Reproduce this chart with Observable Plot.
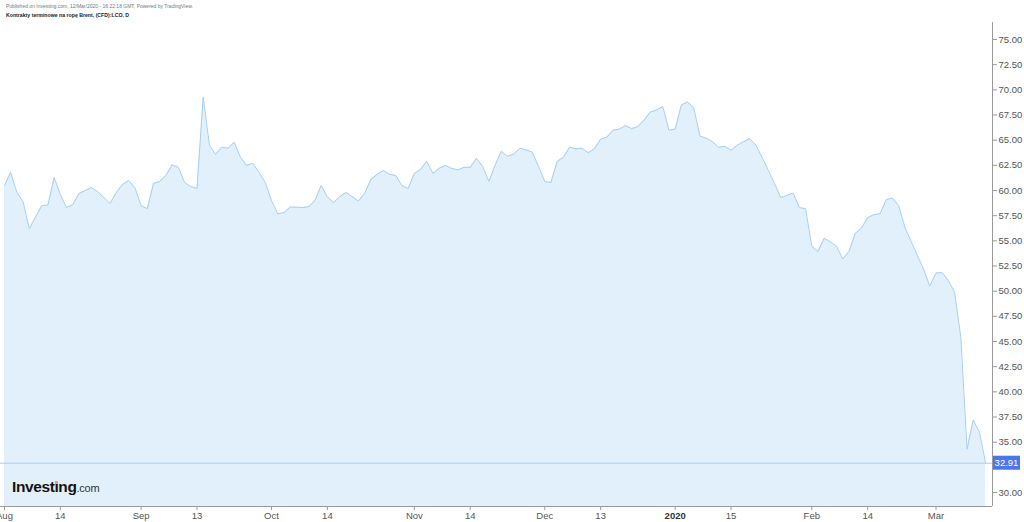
<!DOCTYPE html>
<html><head><meta charset="utf-8">
<script src="https://cdn.jsdelivr.net/npm/d3@7"></script>
<script src="https://cdn.jsdelivr.net/npm/@observablehq/plot@0.6"></script>
<style>
body{margin:0;background:#fff;font-family:"Liberation Sans",Arial,sans-serif;}
#wrap{position:relative;width:1024px;height:522px;overflow:hidden;}
#chart{position:absolute;left:0;top:0;}
#pub{position:absolute;left:6px;top:3px;font-size:5px;line-height:6px;color:#777;white-space:nowrap;}
#ttl{position:absolute;left:6px;top:12px;font-size:5.2px;line-height:6px;font-weight:bold;color:#222;white-space:nowrap;}
#logo{position:absolute;left:12px;top:478px;font-size:15.5px;line-height:18px;font-weight:bold;color:#141414;letter-spacing:-0.4px;white-space:nowrap;}
#logo .com{font-size:11px;font-weight:normal;color:#333;letter-spacing:-0.2px;}
#logo .idot{position:relative;}
#logo .idot::after{content:"";position:absolute;left:0.6px;top:3px;width:3px;height:3px;background:#f5a623;}
</style></head>
<body>
<div id="wrap">
  <div id="chart"></div>
  <div id="pub">Published on Investing.com, 12/Mar/2020 - 16:22:18 GMT, Powered by TradingView.</div>
  <div id="ttl">Kontrakty terminowe na ropę Brent, (CFD):LCO, D</div>
  <div id="logo">Invest<span class="idot">ı</span>ng<span class="com">.com</span></div>
</div>
<script>
// Daily closes (trading-day index 0 = 1 Aug 2019 ... 158 = 12 Mar 2020)
const closes = [
 60.5, 61.8, 59.8, 58.9, 56.2, 57.35, 58.5, 58.55, 61.3, 59.6,
 58.3, 58.6, 59.7, 60.0, 60.3, 59.9, 59.3, 58.7, 59.8, 60.6,
 61.0, 60.3, 58.5, 58.2, 60.7, 60.9, 61.5, 62.55, 62.3, 60.8,
 60.4, 60.2, 69.3, 64.5, 63.6, 64.3, 64.2, 64.8, 63.3, 62.5,
 62.7, 61.8, 60.8, 59.0, 57.7, 57.8, 58.35, 58.35, 58.3, 58.4,
 59.0, 60.5, 59.35, 58.8, 59.4, 59.8, 59.4, 58.95, 59.7, 61.1,
 61.6, 62.0, 61.6, 61.5, 60.5, 60.2, 61.7, 62.1, 62.9, 61.7,
 62.2, 62.5, 62.2, 62.05, 62.3, 62.3, 63.2, 62.4, 60.9, 62.5,
 63.9, 63.4, 63.6, 64.2, 64.05, 63.8, 62.4, 60.9, 60.8, 62.9,
 63.3, 64.3, 64.15, 64.2, 63.75, 64.15, 65.1, 65.3, 66.0, 66.1,
 66.45, 66.15, 66.35, 67.0, 67.8, 68.0, 68.35, 66.0, 66.1, 68.5,
 68.8, 68.2, 65.4, 65.2, 64.85, 64.3, 64.4, 64.0, 64.5, 64.85,
 65.15, 64.5, 63.3, 62.0, 60.7, 59.3, 59.5, 59.75, 58.3, 58.2,
 54.45, 53.95, 55.25, 54.9, 54.45, 53.2, 53.95, 55.75, 56.25, 57.3,
 57.6, 57.7, 59.1, 59.25, 58.5, 56.35, 54.95, 53.55, 52.2, 50.5,
 51.8, 51.85, 51.05, 49.9, 45.4, 34.3, 37.2, 36.0, 32.91
];
const xTicks = [0, 9, 22, 31, 43, 52, 66, 75, 87, 96, 108, 117, 130, 139, 150];
const xTickLabels = ["Aug","14","Sep","13","Oct","14","Nov","14","Dec","13","2020","15","Feb","14","Mar"];
const yTicks = [30, 35, 37.5, 40, 42.5, 45, 47.5, 50, 52.5, 55, 57.5, 60, 62.5, 65, 67.5, 70, 72.5, 75];
const lastPrice = closes[closes.length - 1];
const yMin = 28.61, yMax = 76.69;
const xMin = -0.64, xMax = 159.1;

const data = closes.map((v, i) => ({i, v}));

const chart = Plot.plot({
  width: 1024, height: 522,
  marginTop: 22, marginBottom: 16, marginLeft: 0, marginRight: 32,
  style: {background: "transparent", fontFamily: "Liberation Sans, Arial, sans-serif", fontSize: "9.5px", color: "#555", overflow: "visible"},
  x: {domain: [xMin, xMax], ticks: xTicks, tickFormat: d => xTickLabels[xTicks.indexOf(d)], tickSize: 4, tickPadding: 2, label: null},
  y: {domain: [yMin, yMax], axis: "right", ticks: yTicks, tickFormat: d => d.toFixed(2), tickSize: 4, tickPadding: 2, label: null},
  marks: [
    Plot.areaY(data, {x: "i", y1: yMin, y2: "v", fill: "#e1f0fa"}),
    Plot.lineY(data, {x: "i", y: "v", stroke: "#a7cff1", strokeWidth: 1}),
    Plot.ruleY([lastPrice], {stroke: "#a7cff1", strokeWidth: 1}),
    Plot.ruleY([yMin], {stroke: "#9a9a9a"}),
    Plot.ruleX([xMax], {stroke: "#9a9a9a"})
  ]
});
document.getElementById("chart").appendChild(chart);

const svg = d3.select(chart);
svg.selectAll("g[aria-label$='tick'] path").attr("stroke", "#9a9a9a");
svg.selectAll("text").filter(function(){ return this.textContent === "2020"; }).attr("font-weight", "bold").attr("fill", "#333");

// last price label on the right axis
const py = chart.scale("y").apply(lastPrice);
const px = chart.scale("x").apply(xMax);
svg.append("rect").attr("x", px + 1).attr("y", py - 7).attr("width", 27).attr("height", 14).attr("fill", "#4a77e6");
svg.append("text").attr("x", px + 14.5).attr("y", py).attr("dy", "0.35em").attr("text-anchor", "middle")
  .attr("fill", "#fff").attr("font-size", "9.5px").text(lastPrice.toFixed(2));
</script>
</body></html>
